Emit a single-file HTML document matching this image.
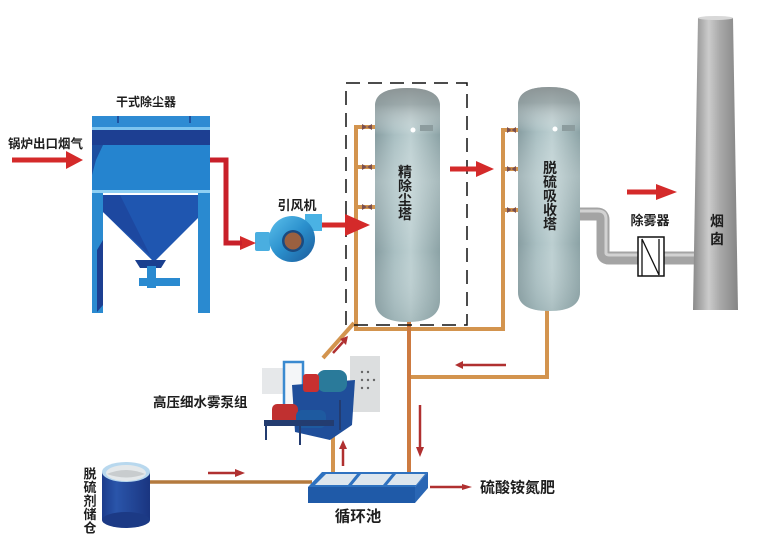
<!DOCTYPE html>
<html><head><meta charset="utf-8">
<style>
html,body{margin:0;padding:0;background:#fff;}
svg{display:block;}
text{font-family:"Liberation Sans","Noto Sans CJK SC",sans-serif;font-weight:bold;fill:#1e1e1e;}
</style></head>
<body>
<svg width="766" height="549" viewBox="0 0 766 549" xmlns="http://www.w3.org/2000/svg">
<defs>
  <linearGradient id="tg" x1="0" y1="0" x2="1" y2="0">
    <stop offset="0" stop-color="#879da1"/>
    <stop offset="0.3" stop-color="#a9bfc2"/>
    <stop offset="0.55" stop-color="#bccfd1"/>
    <stop offset="1" stop-color="#8ba2a5"/>
  </linearGradient>
  <linearGradient id="tv" x1="0" y1="0" x2="0" y2="1">
    <stop offset="0" stop-color="#8a9293" stop-opacity="0.95"/>
    <stop offset="0.07" stop-color="#929c9d" stop-opacity="0.7"/>
    <stop offset="0.2" stop-color="#ffffff" stop-opacity="0.0"/>
    <stop offset="0.4" stop-color="#e8f0f0" stop-opacity="0.3"/>
    <stop offset="0.7" stop-color="#ffffff" stop-opacity="0.0"/>
    <stop offset="1" stop-color="#7e9598" stop-opacity="0.3"/>
  </linearGradient>
  <linearGradient id="cg" x1="0" y1="0" x2="1" y2="0">
    <stop offset="0" stop-color="#8a8a8a"/>
    <stop offset="0.35" stop-color="#cbcbcb"/>
    <stop offset="0.6" stop-color="#a9a9a9"/>
    <stop offset="1" stop-color="#858585"/>
  </linearGradient>
  <linearGradient id="tank" x1="0" y1="0" x2="1" y2="0">
    <stop offset="0" stop-color="#1c3c8c"/>
    <stop offset="0.3" stop-color="#2a55aa"/>
    <stop offset="1" stop-color="#1a3580"/>
  </linearGradient>
  <linearGradient id="fan" x1="0" y1="0" x2="1" y2="1">
    <stop offset="0" stop-color="#5cc0ec"/>
    <stop offset="0.5" stop-color="#2a8fcc"/>
    <stop offset="1" stop-color="#1c5a9a"/>
  </linearGradient>
</defs>

<!-- ===== Dry dust collector ===== -->
<rect x="92" y="116" width="118" height="11" fill="#2e8bd3"/>
<rect x="92" y="127" width="118" height="3" fill="#7cc4ef"/>
<rect x="92" y="130" width="118" height="15" fill="#1d3f92"/>
<rect x="92" y="145" width="118" height="45" fill="#2584cf"/>
<polygon points="92,145 103,145 96,160 92,175" fill="#1d4fa0"/>
<rect x="92" y="190" width="118" height="3" fill="#8fd0f3"/>
<line x1="118" y1="116" x2="118" y2="123" stroke="#1a3f8f" stroke-width="1.5"/>
<line x1="190" y1="116" x2="190" y2="123" stroke="#1a3f8f" stroke-width="1.5"/>
<rect x="92" y="193" width="11" height="120" fill="#2a8ad0"/>
<polygon points="97,250 103,240 103,305 97,312" fill="#1d3f92"/>
<rect x="198" y="193" width="12" height="120" fill="#2a8ad0"/>
<polygon points="103,195 198,195 198,218 154,262 103,212" fill="#1f56b0"/>
<polygon points="103,195 120,195 150,255 103,212" fill="#1d48a0"/>
<polygon points="135,260 166,260 161,268 140,268" fill="#1a3f8f"/>
<rect x="147" y="266" width="9" height="22" fill="#2a8ad0"/>
<rect x="139" y="278" width="41" height="8" fill="#2a8ad0"/>

<!-- ===== Fan ===== -->
<rect x="255" y="232" width="15" height="19" fill="#4aaee0" rx="2"/>
<rect x="305" y="214" width="17" height="17" fill="#4ab2e4"/>
<circle cx="292" cy="239" r="23" fill="url(#fan)"/>
<circle cx="293" cy="241" r="11" fill="#1a4a80"/>
<circle cx="293" cy="241" r="8.5" fill="#9a6040"/>

<!-- ===== Grey pipe to chimney ===== -->
<path d="M580,214 L597,214 Q603,214 603,220 L603,252 Q603,258 609,258 L696,258" fill="none" stroke="#a4a4a4" stroke-width="13"/>
<path d="M580,211 L598,211 Q606,211 606,219 L606,253 Q606,255 610,255 L696,255" fill="none" stroke="#d2d2d2" stroke-width="3"/>

<!-- ===== Chimney ===== -->
<polygon points="698,18 733,18 738,310 693,310" fill="url(#cg)"/>
<ellipse cx="715.5" cy="18" rx="17.5" ry="2" fill="#d8d8d8"/>

<!-- Demister -->
<rect x="638" y="237" width="26" height="39" fill="#fff" stroke="#111" stroke-width="1.5"/>
<polyline points="642,276 642,239 659,275 659,239" fill="none" stroke="#111" stroke-width="1.3"/>

<!-- ===== Orange pipes ===== -->
<g stroke="#d3944e" stroke-width="4" fill="none">
  <polyline points="375,127 356,127 356,329 503,329 503,130 518,130"/>
  <line x1="356" y1="167" x2="375" y2="167"/>
  <line x1="356" y1="207" x2="375" y2="207"/>
  <line x1="503" y1="169" x2="518" y2="169"/>
  <line x1="503" y1="210" x2="518" y2="210"/>
  <line x1="323" y1="358" x2="354" y2="323"/>
  <polyline points="547,310 547,377 409,377"/>
  <line x1="333" y1="434" x2="333" y2="474"/>
</g>
<line x1="409" y1="318" x2="409" y2="473" stroke="#cd7a40" stroke-width="4"/>
<line x1="148" y1="482" x2="312" y2="482" stroke="#b47a3e" stroke-width="3.5"/>

<!-- valves -->
<g fill="#7a5050">
  <polygon points="362,124 372,130 372,124 362,130"/>
  <polygon points="362,164 372,170 372,164 362,170"/>
  <polygon points="362,204 372,210 372,204 362,210"/>
  <polygon points="507,127 516,133 516,127 507,133"/>
  <polygon points="507,166 516,172 516,166 507,172"/>
  <polygon points="507,207 516,213 516,207 507,213"/>
</g>

<!-- ===== Towers ===== -->
<path d="M375,106 Q375,88 407.5,88 Q440,88 440,106 L440,300 Q440,322 407.5,322 Q375,322 375,300 Z" fill="url(#tg)"/>
<path d="M375,106 Q375,88 407.5,88 Q440,88 440,106 L440,300 Q440,322 407.5,322 Q375,322 375,300 Z" fill="url(#tv)"/>
<circle cx="413" cy="130" r="2.5" fill="#fff"/>
<rect x="420" y="125" width="13" height="6" fill="#8c9c9e"/>
<path d="M518,105 Q518,87 549,87 Q580,87 580,105 L580,292 Q580,311 549,311 Q518,311 518,292 Z" fill="url(#tg)"/>
<path d="M518,105 Q518,87 549,87 Q580,87 580,105 L580,292 Q580,311 549,311 Q518,311 518,292 Z" fill="url(#tv)"/>
<circle cx="555" cy="129" r="2.5" fill="#fff"/>
<rect x="562" y="125" width="13" height="6" fill="#8c9c9e"/>

<!-- dashed frame -->
<rect x="346" y="83" width="121" height="242" fill="none" stroke="#111" stroke-width="1.5" stroke-dasharray="14 8"/>

<!-- ===== Pump set ===== -->
<rect x="262" y="368" width="21" height="26" fill="#e6e8ea"/>
<rect x="284" y="362" width="19" height="48" fill="#f4f6f8" stroke="#3a8ad0" stroke-width="2.5"/>
<rect x="350" y="356" width="30" height="56" fill="#dcdedf"/>
<g fill="#666"><circle cx="362" cy="372" r="1.2"/><circle cx="368" cy="372" r="1.2"/><circle cx="362" cy="380" r="1.2"/><circle cx="368" cy="380" r="1.2"/><circle cx="374" cy="380" r="1.2"/><circle cx="362" cy="388" r="1.2"/><circle cx="368" cy="388" r="1.2"/></g>
<polygon points="292,385 355,380 352,425 330,440 295,432" fill="#1f4e9a"/>
<rect x="317" y="370" width="30" height="22" rx="8" fill="#2a7a9a"/>
<rect x="303" y="374" width="16" height="18" rx="3" fill="#c83030"/>
<rect x="272" y="404" width="26" height="20" rx="5" fill="#c03030"/>
<rect x="296" y="410" width="30" height="18" rx="6" fill="#1e5aa0"/>
<rect x="264" y="420" width="70" height="6" fill="#233c70"/>
<line x1="266" y1="420" x2="266" y2="440" stroke="#233c70" stroke-width="2"/>
<line x1="300" y1="426" x2="300" y2="445" stroke="#233c70" stroke-width="2"/>
<line x1="340" y1="400" x2="340" y2="430" stroke="#233c70" stroke-width="2"/>

<!-- ===== Tank ===== -->
<rect x="102" y="472" width="48" height="48" fill="url(#tank)"/>
<ellipse cx="126" cy="520" rx="24" ry="8" fill="#1c3a85"/>
<ellipse cx="126" cy="472" rx="24" ry="10" fill="#b8d8ee"/>
<ellipse cx="126" cy="473" rx="20" ry="8" fill="#e4e8ea"/>
<path d="M107,474 Q126,466 145,474 Q126,481 107,474Z" fill="#c8ccce"/>

<!-- ===== Pool ===== -->
<polygon points="322,472 428,472 415,487 308,487" fill="#2f72c0"/>
<polygon points="308,487 415,487 415,503 308,503" fill="#1f5aa8"/>
<polygon points="415,487 428,472 428,488 415,503" fill="#2966b4"/>
<g fill="#dde6ee">
  <polygon points="326,474 357,474 348,485 315,485"/>
  <polygon points="361,474 392,474 383,485 352,485"/>
  <polygon points="396,474 425,474 416,485 387,485"/>
</g>

<!-- ===== Red arrows (big) ===== -->
<g fill="#d42a2a">
  <rect x="12" y="157.5" width="56" height="5"/>
  <polygon points="66,151 83,160 66,169"/>
  <polygon points="240,236 256,243 240,250"/>
  <rect x="322" y="222.5" width="26" height="5"/>
  <polygon points="345,214 370,225 345,236"/>
  <rect x="450" y="166.5" width="28" height="5"/>
  <polygon points="476,161 494,169 476,177"/>
  <rect x="627" y="189.5" width="32" height="5"/>
  <polygon points="656,184 677,192 656,200"/>
</g>
<path d="M210,160 H226 V243 H242" fill="none" stroke="#c8202a" stroke-width="5"/>

<!-- ===== Small arrows ===== -->
<g stroke="#b03030" stroke-width="2.5" fill="none">
  <line x1="506" y1="365" x2="462" y2="365"/>
  <line x1="420" y1="405" x2="420" y2="448"/>
  <line x1="343" y1="466" x2="343" y2="448"/>
  <line x1="333" y1="353" x2="343" y2="342"/>
  <line x1="208" y1="473" x2="236" y2="473"/>
  <line x1="430" y1="487" x2="464" y2="487"/>
</g>
<g fill="#b03030">
  <polygon points="463,361 455,365 463,369"/>
  <polygon points="416,447 420,457 424,447"/>
  <polygon points="339,449 343,440 347,449"/>
  <polygon points="340,339 348,336 346,345"/>
  <polygon points="235,469 245,473 235,477"/>
  <polygon points="462,484 472,487 462,490"/>
</g>

<!-- ===== Labels ===== -->
<text x="8" y="148" font-size="12.5">锅炉出口烟气</text>
<text x="146" y="106" font-size="12" text-anchor="middle">干式除尘器</text>
<text x="297" y="210" font-size="13" text-anchor="middle">引风机</text>
<g font-size="14" text-anchor="middle">
  <text x="405" y="172" dominant-baseline="central">精</text>
  <text x="405" y="186" dominant-baseline="central">除</text>
  <text x="405" y="200" dominant-baseline="central">尘</text>
  <text x="405" y="214" dominant-baseline="central">塔</text>
  <text x="550" y="168" dominant-baseline="central">脱</text>
  <text x="550" y="182" dominant-baseline="central">硫</text>
  <text x="550" y="196" dominant-baseline="central">吸</text>
  <text x="550" y="210" dominant-baseline="central">收</text>
  <text x="550" y="224" dominant-baseline="central">塔</text>
</g>
<g font-size="13" text-anchor="middle">
  <text x="90" y="474" dominant-baseline="central">脱</text>
  <text x="90" y="487.5" dominant-baseline="central">硫</text>
  <text x="90" y="501" dominant-baseline="central">剂</text>
  <text x="90" y="514.5" dominant-baseline="central">储</text>
  <text x="90" y="528" dominant-baseline="central">仓</text>
</g>
<text x="650" y="225" font-size="13" text-anchor="middle">除雾器</text>
<text x="717" y="221" font-size="14" text-anchor="middle" dominant-baseline="central">烟</text>
<text x="717" y="239" font-size="14" text-anchor="middle" dominant-baseline="central">囱</text>
<text x="153" y="407" font-size="13.5">高压细水雾泵组</text>
<text x="480" y="492.5" font-size="15">硫酸铵氮肥</text>
<text x="358" y="521.5" font-size="15.5" text-anchor="middle">循环池</text>
</svg>
</body></html>
